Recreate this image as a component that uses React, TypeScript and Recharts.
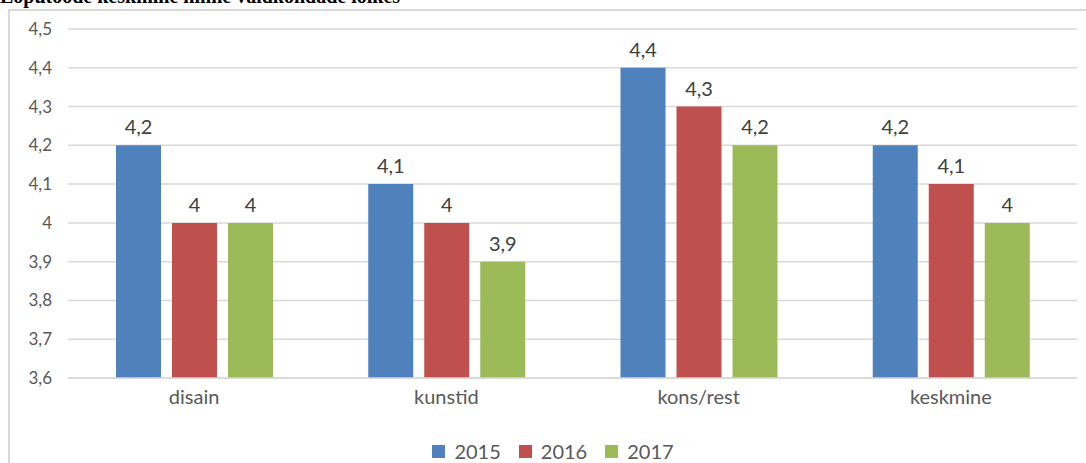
import { BarChart, Bar, XAxis, YAxis, CartesianGrid, Legend, LabelList } from "recharts"

const categories = ["disain", "kunstid", "kons/rest", "keskmine"]
const y2015 = [4.2, 4.1, 4.4, 4.2]
const y2016 = [4, 4, 4.3, 4.1]
const y2017 = [4, 3.9, 4.2, 4]
const yTicks = [3.6, 3.7, 3.8, 3.9, 4, 4.1, 4.2, 4.3, 4.4, 4.5]

const series = [
  { key: "2015", color: "#4F81BD" },
  { key: "2016", color: "#C0504D" },
  { key: "2017", color: "#9BBB59" }
]

const data = categories.map((name, i) => ({
  name,
  "2015": y2015[i],
  "2016": y2016[i],
  "2017": y2017[i]
}))

const FONT = "Lato, 'Open Sans', sans-serif"
const fmt = (v: any) => String(v).replace(".", ",")

const renderLegend = (props: any) => {
  const { payload } = props
  return (
    <div style={{ display: "flex", justifyContent: "center", fontFamily: FONT, fontSize: 20, lineHeight: "24px", color: "#595959", paddingLeft: 20 }}>
      {payload.map((p: any) => (
        <div key={p.value} style={{ display: "flex", alignItems: "center", margin: "0 9px" }}>
          <span style={{ width: 13, height: 13, background: p.color, display: "inline-block", marginRight: 9 }} />
          <span>{p.value}</span>
        </div>
      ))}
    </div>
  )
}

export default function App() {
  return (
    <div style={{ position: "absolute", left: 0, top: 0, width: 1086, height: 463, overflow: "hidden", background: "#fff" }}>
      <div
        style={{
          position: "absolute",
          left: 8,
          top: 9,
          width: 1200,
          height: 600,
          border: "2px solid #d9d9d9",
          boxSizing: "border-box"
        }}
      />
      <div
        style={{
          position: "absolute",
          left: 0,
          top: -14,
          fontFamily: "'Liberation Serif', 'Times New Roman', serif",
          fontWeight: "bold",
          fontSize: 20,
          lineHeight: "20px",
          whiteSpace: "nowrap",
          color: "#000"
        }}
      >
        Lõputööde keskmine hinne valdkondade lõikes
      </div>
      <div style={{ position: "absolute", left: 0, top: 0 }}>
        <BarChart width={1086} height={463} data={data} margin={{ top: 29, right: 9, left: 0, bottom: 55 }} barSize={45} barGap={11}>
          <CartesianGrid vertical={false} stroke="#d9d9d9" strokeWidth={1.5} />
          <XAxis
            dataKey="name"
            height={30}
            tickLine={false}
            axisLine={{ stroke: "#d9d9d9", strokeWidth: 1.5 }}
            tickMargin={6}
            tick={{ fill: "#595959", fontSize: 20, fontFamily: FONT }}
          />
          <YAxis
            width={68}
            domain={[3.6, 4.5]}
            ticks={yTicks}
            interval={0}
            axisLine={false}
            tickLine={false}
            tickMargin={10}
            tickFormatter={fmt}
            tick={{ fill: "#595959", fontSize: 17, fontFamily: FONT }}
          />
          <Legend verticalAlign="middle" align="center" content={renderLegend} wrapperStyle={{ top: 439, left: 0, width: 1086 }} />
          {series.map((s) => (
            <Bar key={s.key} dataKey={s.key} fill={s.color} isAnimationActive={false}>
              <LabelList dataKey={s.key} position="top" offset={11} formatter={fmt} fill="#404040" fontSize={20} fontFamily={FONT} />
            </Bar>
          ))}
        </BarChart>
      </div>
    </div>
  )
}
